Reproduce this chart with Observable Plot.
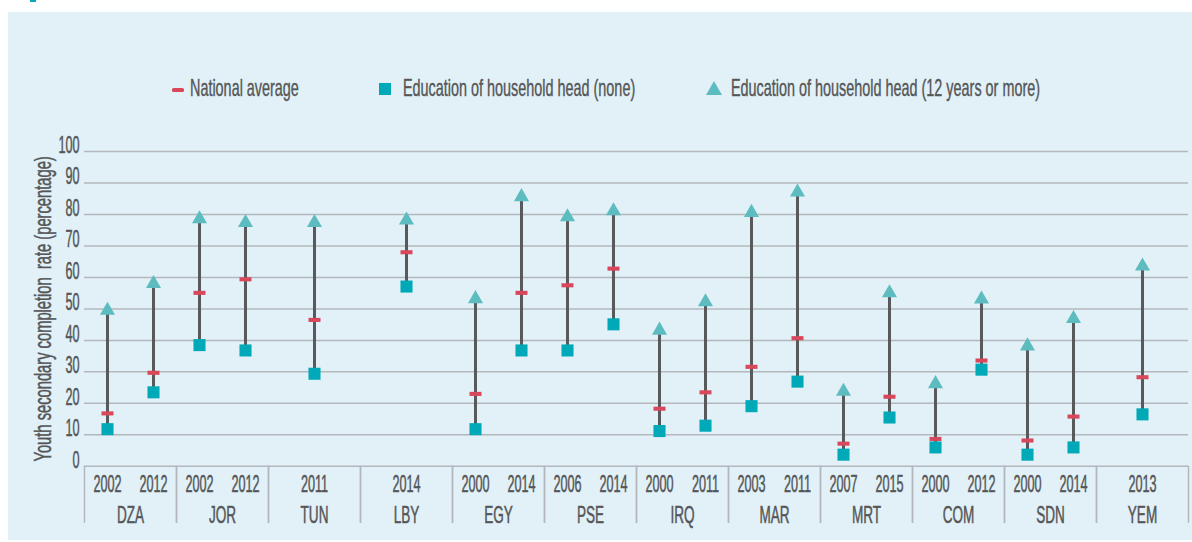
<!DOCTYPE html>
<html><head><meta charset="utf-8">
<script src="https://cdn.jsdelivr.net/npm/d3@7"></script>
<script src="https://cdn.jsdelivr.net/npm/@observablehq/plot@0.6"></script>
<style>
body{margin:0;background:#fff;width:1192px;height:542px;overflow:hidden;position:relative;font-family:'Liberation Sans Narrow','Liberation Sans',sans-serif}
#panel{position:absolute;left:8px;top:12px;width:1184px;height:528px;background:#e1f1f7}
#tab{position:absolute;left:30px;top:0;width:6px;height:2px;background:#00a9b7}
.leg{position:absolute;top:74px;height:28px;display:flex;align-items:center;color:#555658;font-size:24px;white-space:nowrap}
.leg span{display:inline-block;transform:scaleX(0.60);transform-origin:left center;-webkit-text-stroke:0.4px #555658}
#chart{position:absolute;left:0;top:120px}
#chart svg text{stroke:#555658;stroke-width:0.5px}
</style></head><body>
<div id="panel"></div>
<div id="tab"></div>
<div class="leg" style="left:172px"><svg width="12" height="6" style="margin-right:6px;margin-top:4px"><rect x="0" y="1" width="12" height="4" rx="1.5" fill="#d9475b"/></svg><span>National average</span></div>
<div class="leg" style="left:379px"><svg width="12" height="12" style="margin-right:12px;margin-top:2px"><rect width="12" height="12" fill="#00a9b7"/></svg><span>Education of household head (none)</span></div>
<div class="leg" style="left:706px"><svg width="16" height="14" style="margin-right:9px"><path d="M8,0L16,14L0,14Z" fill="#5dbcbf"/></svg><span>Education of household head (12 years or more)</span></div>
<div id="chart"></div>
<script>
const countryOrder = ["DZA","JOR","TUN","LBY","EGY","PSE","IRQ","MAR","MRT","COM","SDN","YEM"];
const country = ["DZA","DZA","JOR","JOR","TUN","LBY","EGY","EGY","PSE","PSE","IRQ","IRQ","MAR","MAR","MRT","MRT","COM","COM","SDN","SDN","YEM"];
const years   = [2002,2012,2002,2012,2011,2014,2000,2014,2006,2014,2000,2011,2003,2011,2007,2015,2000,2012,2000,2014,2013];
const national = [16.8,29.7,55.1,59.4,46.5,68.0,23.0,55.1,57.5,62.8,18.3,23.5,31.6,40.7,7.2,22.1,8.7,33.6,8.2,15.8,28.3];
const eduNone  = [11.8,23.5,38.5,36.8,29.4,57.1,11.8,36.8,36.8,45.1,11.2,12.9,19.1,26.9,3.7,15.5,6.0,30.7,3.7,6.0,16.5];
const eduHigh  = [49.5,58.0,78.6,77.4,77.4,78.2,53.2,85.6,79.2,81.1,43.2,52.2,80.6,87.1,23.8,55.1,26.2,53.1,38.2,46.9,63.6];
const yTicks = [0,10,20,30,40,50,60,70,80,90,100];
const slots = ["|","L","C","R","||"];

const counts = d3.rollup(country, v => v.length, d => d);
const seen = new Map();
const rows = country.map((c, i) => {
  const k = seen.get(c) || 0; seen.set(c, k + 1);
  const slot = counts.get(c) === 1 ? "C" : (k === 0 ? "L" : "R");
  return {country: c, year: String(years[i]), slot, nat: national[i], none: eduNone[i], high: eduHigh[i]};
});

const dashSymbol = {draw(ctx, size) {
  const r = Math.sqrt(size / Math.PI), h = r * 0.34;
  ctx.moveTo(-r, -h); ctx.lineTo(r, -h); ctx.lineTo(r, h); ctx.lineTo(-r, h); ctx.closePath();
}};

const chart = Plot.plot({
  width: 1192, height: 420,
  marginTop: 31, marginBottom: 74.2, marginLeft: 84, marginRight: 4,
  style: {background: "transparent", fontFamily: "'Liberation Sans Narrow','Liberation Sans',sans-serif", fontSize: "23px", color: "#555658"},
  fx: {domain: countryOrder, padding: 0, label: null},
  x: {type: "point", domain: slots, padding: 0},
  y: {domain: [0, 100]},
  marks: [
    Plot.gridY({ticks: yTicks, stroke: "#b4b8bc", strokeOpacity: 1, strokeWidth: 1.5}),
    Plot.axisY({ticks: yTicks, tickSize: 0, tickPadding: 5, dy: -6,
      label: "Youth secondary completion  rate (percentage)", labelAnchor: "center", labelOffset: 50, labelArrow: false}),
    Plot.axisX({ticks: ["|","||"], tickSize: 57, tickFormat: () => "", stroke: "#b4b8bc", strokeWidth: 1.5, label: null}),
    Plot.axisFx({anchor: "bottom", tickSize: 0, tickPadding: 40, label: null}),
    Plot.text(rows, {fx: "country", x: "slot", text: "year", frameAnchor: "bottom", lineAnchor: "middle", dy: 18}),
    Plot.ruleX(rows, {fx: "country", x: "slot", y1: "none", y2: "high", stroke: "#58595b", strokeWidth: 3}),
    Plot.dot(rows, {fx: "country", x: "slot", y: "none", symbol: "square", r: 6.8, fill: "#00a9b7"}),
    Plot.dot(rows, {fx: "country", x: "slot", y: "nat", symbol: dashSymbol, r: 6, fill: "#d9475b"}),
    Plot.dot(rows, {fx: "country", x: "slot", y: "high", symbol: "triangle", r: 5.6, fill: "#5dbcbf"})
  ]
});

chart.querySelectorAll("text").forEach(t => {
  const txt = t.textContent.trim();
  const s = /^\d+$/.test(txt) ? 0.55 : /^[A-Z]{3}$/.test(txt) ? 0.59 : 0.64;
  let tr = t.getAttribute("transform") || "";
  const x = t.getAttribute("x");
  if (x != null && !isNaN(+x)) { tr += ` translate(${x},0)`; t.removeAttribute("x"); }
  t.setAttribute("transform", tr + ` scale(${s},1)`);
});
document.getElementById("chart").appendChild(chart);
</script>
</body></html>
